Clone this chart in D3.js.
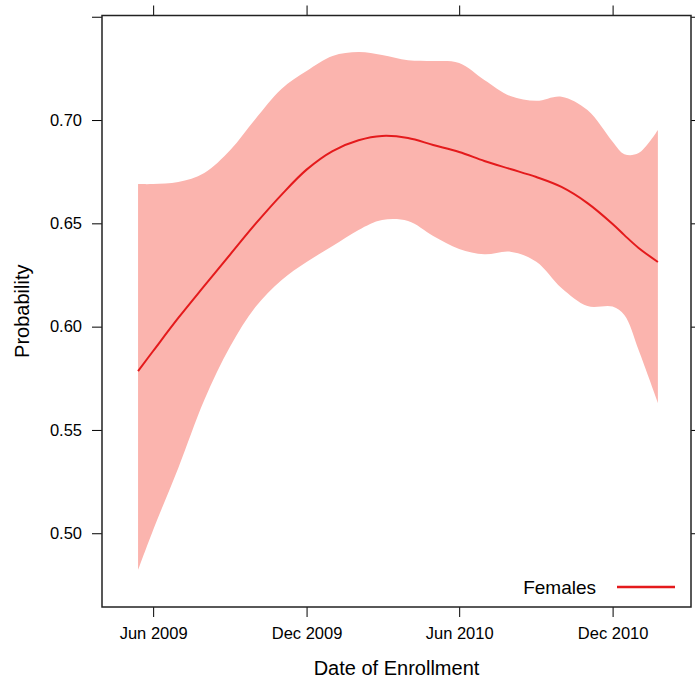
<!DOCTYPE html>
<html>
<head>
<meta charset="utf-8">
<script src="https://cdn.jsdelivr.net/npm/d3@7"></script>
<style>
  body { margin: 0; background: #fff; }
  text { font-family: "Liberation Sans", Arial, sans-serif; fill: #000; }
</style>
</head>
<body>
<svg id="chart"></svg>
<script>
// months sampled along the fitted curve
const dates = [
  "2009-05-14", "2009-06-01", "2009-07-01", "2009-08-01", "2009-09-01",
  "2009-10-01", "2009-11-01", "2009-12-01", "2010-01-01", "2010-02-01",
  "2010-03-01", "2010-04-01", "2010-05-01", "2010-06-01", "2010-07-01",
  "2010-08-01", "2010-09-01", "2010-10-01", "2010-11-01", "2010-12-01",
  "2010-12-15", "2011-01-01", "2011-01-24",
];
const fit = [
  0.5785, 0.5882, 0.6042, 0.6197, 0.6350, 0.6497, 0.6638, 0.6760, 0.6850, 0.6902,
  0.6923, 0.6913, 0.6879, 0.6845, 0.6802, 0.6763, 0.6724, 0.6676, 0.6598, 0.6497,
  0.6443, 0.6381, 0.6313,
];
const upper = [
  0.6690, 0.6690, 0.6700, 0.6744, 0.6855, 0.7005, 0.7150, 0.7237, 0.7310, 0.7329,
  0.7315, 0.7290, 0.7286, 0.7276, 0.7194, 0.7116, 0.7093, 0.7113, 0.7048, 0.6895,
  0.6835, 0.6840, 0.6952,
];
const lower = [
  0.4822, 0.5016, 0.5316, 0.5645, 0.5905, 0.6095, 0.6225, 0.6313, 0.6390, 0.6468,
  0.6516, 0.6511, 0.6439, 0.6376, 0.6350, 0.6363, 0.6314, 0.6187, 0.6100, 0.6097,
  0.6056, 0.5887, 0.5631,
];
const xTicks = ["2009-06-01", "2009-12-01", "2010-06-01", "2010-12-01"];
const yTicks = [0.50, 0.55, 0.60, 0.65, 0.70, 0.75];
const yLabels = [0.50, 0.55, 0.60, 0.65, 0.70];
const seriesName = "Females";

// SVG dimensions
const width = 695;
const height = 679;
const panel = { left: 102, right: 691, top: 15.5, bottom: 607 };

const parse = d3.timeParse("%Y-%m-%d");
const rows = dates.map((d, i) => ({ date: parse(d), fit: fit[i], lo: lower[i], hi: upper[i] }));

const svg = d3.select("#chart").attr("width", width).attr("height", height);

const xScale = d3
  .scaleTime()
  .domain([new Date(2009, 3, 1), new Date(2011, 2, 4, 12)])
  .range([panel.left, panel.right]);

const yScale = d3
  .scaleLinear()
  .domain([0.4643, 0.7506])
  .range([panel.bottom, panel.top]);

const smooth = d3.curveCatmullRom.alpha(0.5);

// confidence band
svg
  .append("path")
  .datum(rows)
  .attr("fill", "#FBB4AE")
  .attr("d", d3.area()
    .x((d) => xScale(d.date))
    .y0((d) => yScale(d.lo))
    .y1((d) => yScale(d.hi))
    .curve(smooth));

// fitted line
svg
  .append("path")
  .datum(rows)
  .attr("fill", "none")
  .attr("stroke", "#E41A1C")
  .attr("stroke-width", 2)
  .attr("d", d3.line()
    .x((d) => xScale(d.date))
    .y((d) => yScale(d.fit))
    .curve(smooth));

// axes: ticks on all four sides, labels only bottom and left
const tickDates = xTicks.map(parse);
const fmt = d3.timeFormat("%b %Y");

svg.append("g")
  .attr("transform", `translate(0, ${panel.bottom})`)
  .call(d3.axisBottom(xScale).tickValues(tickDates).tickFormat(fmt).tickSize(10).tickPadding(10));
svg.append("g")
  .attr("transform", `translate(0, ${panel.top})`)
  .call(d3.axisTop(xScale).tickValues(tickDates).tickFormat("").tickSize(10));
svg.append("g")
  .attr("transform", `translate(${panel.left}, 0)`)
  .call(d3.axisLeft(yScale).tickValues(yTicks)
    .tickFormat((d) => (yLabels.includes(d) ? d3.format(".2f")(d) : ""))
    .tickSize(10).tickPadding(10));
svg.append("g")
  .attr("transform", `translate(${panel.right}, 0)`)
  .call(d3.axisRight(yScale).tickValues(yTicks).tickFormat("").tickSize(10));

svg.selectAll(".domain").remove();
svg.selectAll(".tick line").style("stroke", "#000").style("stroke-width", 1);
svg.selectAll(".tick text")
  .style("font-family", "'Liberation Sans', Arial, sans-serif")
  .style("font-size", "16.5px")
  .style("fill", "#000");

// panel border
svg.append("rect")
  .attr("x", panel.left)
  .attr("y", panel.top)
  .attr("width", panel.right - panel.left)
  .attr("height", panel.bottom - panel.top)
  .attr("fill", "none")
  .attr("stroke", "#222")
  .attr("stroke-width", 1.5);

// axis titles
svg.append("text")
  .attr("x", (panel.left + panel.right) / 2)
  .attr("y", 675)
  .attr("text-anchor", "middle")
  .style("font-size", "20px")
  .text("Date of Enrollment");

svg.append("text")
  .attr("transform", `translate(29, ${(panel.top + panel.bottom) / 2}) rotate(-90)`)
  .attr("text-anchor", "middle")
  .style("font-size", "20px")
  .text("Probability");

// legend
svg.append("text")
  .attr("x", 596)
  .attr("y", 594)
  .attr("text-anchor", "end")
  .style("font-size", "19px")
  .text(seriesName);

svg.append("line")
  .attr("x1", 617)
  .attr("x2", 675)
  .attr("y1", 587)
  .attr("y2", 587)
  .attr("stroke", "#E41A1C")
  .attr("stroke-width", 2.5);
</script>
</body>
</html>
